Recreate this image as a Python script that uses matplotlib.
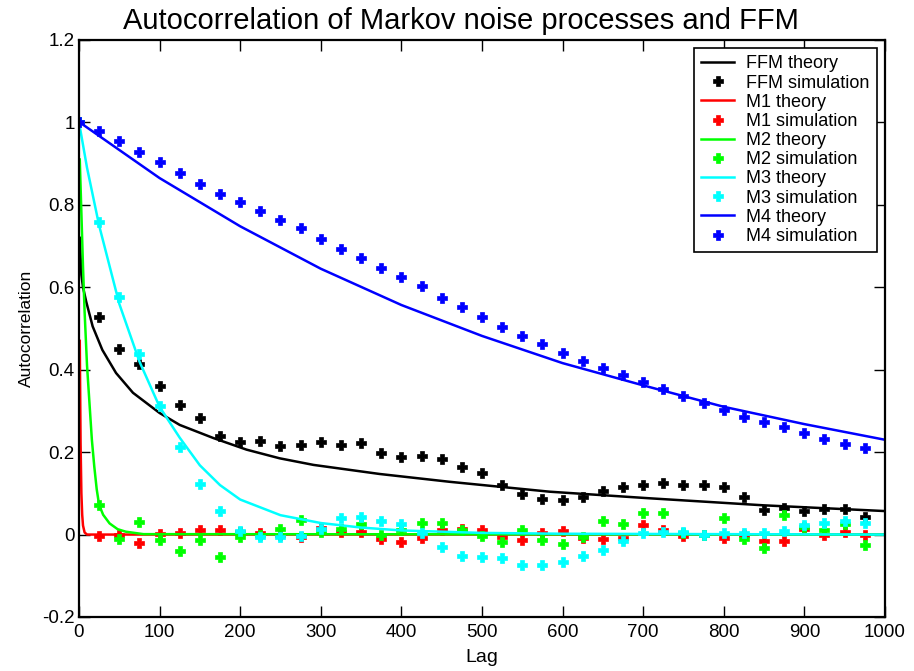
import numpy as np
import matplotlib
matplotlib.use('Agg')
import matplotlib.pyplot as plt
from matplotlib.ticker import FuncFormatter

plt.rcParams['font.family'] = ['Liberation Sans', 'DejaVu Sans']

# simulation lags (every 25)
sim_lags = np.arange(0, 1000, 25)

ffm_sim = [1.0, 0.527, 0.45, 0.415, 0.36, 0.315, 0.282, 0.24, 0.225, 0.228,
           0.214, 0.218, 0.224, 0.217, 0.223, 0.199, 0.189, 0.191, 0.183, 0.165,
           0.15, 0.12, 0.099, 0.087, 0.084, 0.09, 0.106, 0.116, 0.12, 0.126,
           0.12, 0.12, 0.116, 0.09, 0.06, 0.064, 0.058, 0.062, 0.062, 0.042]
m1_sim = [1.0, -0.003, 0.0, -0.021, 0.001, 0.004, 0.011, 0.01, 0.005, 0.003,
          0.0, -0.007, 0.017, 0.006, 0.005, -0.011, -0.019, -0.009, 0.011, 0.014,
          0.01, -0.007, -0.013, 0.003, 0.009, -0.009, -0.01, -0.009, 0.022, 0.011,
          -0.003, 0.0, -0.009, 0.0, -0.015, -0.015, 0.013, -0.001, 0.005, 0.0]
m2_sim = [1.0, 0.072, -0.011, 0.03, -0.013, -0.04, -0.013, -0.054, -0.005, 0.0,
          0.014, 0.036, 0.005, 0.014, 0.025, -0.001, 0.012, 0.027, 0.027, 0.011,
          -0.003, -0.019, 0.01, -0.013, -0.023, -0.005, 0.033, 0.026, 0.052, 0.052,
          0.003, -0.001, 0.041, -0.011, -0.033, 0.048, 0.018, 0.01, 0.026, -0.025]
m3_sim = [1.0, 0.759, 0.577, 0.439, 0.312, 0.213, 0.122, 0.057, 0.009, -0.005,
          -0.005, -0.003, 0.013, 0.04, 0.043, 0.034, 0.026, 0.003, -0.029, -0.051,
          -0.054, -0.058, -0.075, -0.075, -0.066, -0.051, -0.037, -0.016, 0.003, 0.007,
          0.006, -0.001, 0.003, 0.003, 0.003, 0.009, 0.023, 0.027, 0.034, 0.029]
m4_sim = [1.0, 0.98, 0.956, 0.929, 0.903, 0.877, 0.851, 0.827, 0.806, 0.786,
          0.764, 0.743, 0.717, 0.693, 0.672, 0.647, 0.626, 0.603, 0.575, 0.552,
          0.527, 0.504, 0.482, 0.462, 0.441, 0.422, 0.404, 0.386, 0.369, 0.353,
          0.335, 0.319, 0.302, 0.286, 0.273, 0.26, 0.246, 0.233, 0.22, 0.209]

ffm_lag = [1, 3, 5, 9, 17, 29, 46, 67, 100, 125, 167, 208, 249, 291, 332, 373,
           460, 584, 708, 849, 1000]
ffm_th = [0.72, 0.63, 0.6, 0.565, 0.505, 0.448, 0.392, 0.344, 0.295, 0.266, 0.234,
          0.206, 0.185, 0.169, 0.158, 0.147, 0.128, 0.104, 0.088, 0.071, 0.057]
m1_lag = [1, 2, 3, 4, 5, 7, 10, 1000]
m1_th = [0.47, 0.22, 0.1, 0.048, 0.022, 0.005, 0.0, 0.0]
m2_lag = [1, 3, 5, 7, 10, 13, 16, 19, 22, 25, 30, 38, 48, 58, 80, 1000]
m2_th = [0.91, 0.78, 0.65, 0.54, 0.41, 0.32, 0.23, 0.165, 0.11, 0.072, 0.048,
         0.027, 0.013, 0.007, 0.001, 0.0]
m3_lag = [1, 10, 25, 50, 75, 100, 125, 150, 175, 200, 250, 300, 350, 400, 500,
          600, 1000]
m3_th = [0.99, 0.89, 0.75, 0.56, 0.42, 0.31, 0.235, 0.168, 0.12, 0.085, 0.047,
         0.028, 0.017, 0.01, 0.004, 0.002, 0.0]
m4_lag = [1, 100, 200, 300, 400, 500, 600, 700, 800, 900, 1000]
m4_th = [1.0, 0.865, 0.748, 0.645, 0.557, 0.482, 0.416, 0.362, 0.31, 0.268, 0.23]

series = [
    ('FFM', ffm_lag, ffm_th, ffm_sim, 'k'),
    ('M1', m1_lag, m1_th, m1_sim, '#ff0000'),
    ('M2', m2_lag, m2_th, m2_sim, '#00ff00'),
    ('M3', m3_lag, m3_th, m3_sim, '#00ffff'),
    ('M4', m4_lag, m4_th, m4_sim, '#0000ff'),
]

fig = plt.figure(figsize=(9.14, 6.71), dpi=100)
ax = fig.add_axes([0.0864, 0.0805, 0.8818, 0.8599])

for name, tl, tv, sv, c in series:
    ax.plot(tl, tv, color=c, lw=1.8, label=name + ' theory')
    ax.plot(sim_lags, sv, ls='none', marker='P', ms=7.5, mec=c, mfc=c, mew=0.5,
            color=c, label=name + ' simulation')

ax.set_xlim(0, 1000)
ax.set_ylim(-0.2, 1.2)
ax.set_xticks(np.arange(0, 1001, 100))
ax.set_yticks(np.arange(-0.2, 1.21, 0.2))
ax.yaxis.set_major_formatter(FuncFormatter(lambda v, p: '%g' % round(v, 1)))
ax.tick_params(direction='in', top=True, right=True, length=8, width=1,
               labelsize=13.5, pad=3)
ax.tick_params(axis='x', pad=5)
for s in ax.spines.values():
    s.set_linewidth(1.6)

ax.set_title('Autocorrelation of Markov noise processes and FFM', fontsize=21,
             x=0.474, pad=8)
ax.set_xlabel('Lag', fontsize=14, labelpad=6)
ax.set_ylabel('Autocorrelation', fontsize=12.5, labelpad=6)

leg = ax.legend(loc='upper right', fontsize=13, fancybox=False, framealpha=1,
                edgecolor='k', handlelength=1.85, borderaxespad=0.45,
                labelspacing=0.12, handletextpad=0.65, borderpad=0.4)
leg.get_frame().set_linewidth(1.2)

fig.savefig('out.png', dpi=100)
